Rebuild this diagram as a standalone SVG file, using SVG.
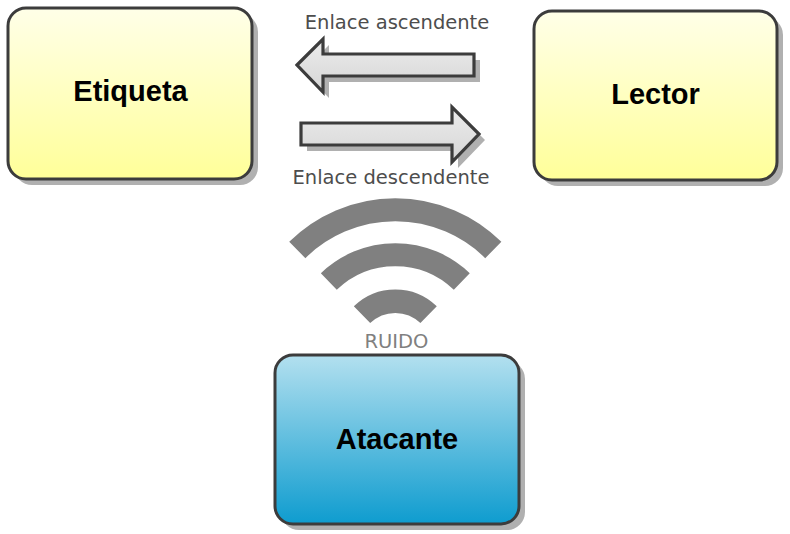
<svg xmlns="http://www.w3.org/2000/svg" width="790" height="534" viewBox="0 0 790 534">
<style>
.box{stroke:#3c3c3c;stroke-width:3}
.shadow{fill:#b0b0b0}
.arrow{fill:url(#gArrow);stroke:#3c3c3c;stroke-width:3.2}
.title{font-family:"Liberation Sans",Arial,sans-serif;font-weight:bold;font-size:29px;fill:#000;text-anchor:middle}
.label{font-family:"DejaVu Sans",sans-serif;font-size:19.5px;fill:#4d4d4d;text-anchor:middle}
.noise{fill:none;stroke:#808080}
</style>
<defs>
<linearGradient id="gYellow" x1="0" y1="0" x2="0" y2="1"><stop offset="0" stop-color="#ffffe8"/><stop offset="1" stop-color="#ffff99"/></linearGradient>
<linearGradient id="gBlue" x1="0" y1="0" x2="0" y2="1"><stop offset="0" stop-color="#b3e0ef"/><stop offset="1" stop-color="#0e9ccf"/></linearGradient>
<linearGradient id="gArrow" x1="0" y1="0" x2="0" y2="1"><stop offset="0" stop-color="#ececec"/><stop offset="1" stop-color="#d6d6d6"/></linearGradient>
</defs>
<g id="etiqueta">
<rect class="shadow" x="14" y="14" width="244" height="171" rx="18"/>
<rect class="box" x="8" y="8" width="244" height="171" rx="18" fill="url(#gYellow)"/>
<text class="title" x="130.500" y="101">Etiqueta</text>
</g>
<g id="lector">
<rect class="shadow" x="540" y="17" width="243" height="169" rx="18"/>
<rect class="box" x="534" y="11" width="243" height="169" rx="18" fill="url(#gYellow)"/>
<text class="title" x="655.500" y="104">Lector</text>
</g>
<g id="atacante">
<rect class="shadow" x="281" y="361" width="244" height="169" rx="18"/>
<rect class="box" x="275" y="355" width="244" height="169" rx="18" fill="url(#gBlue)"/>
<text class="title" x="397" y="449">Atacante</text>
</g>
<g id="connectors">
<g id="uplink">
<path class="shadow" d="M303 71L329 45V60H480V82H329V98Z"/>
<path class="arrow" d="M297 65L323 39V54H474V76H323V92Z"/>
</g>
<g id="downlink">
<path class="shadow" d="M307 129H458V113L485 140L458 168V151H307Z"/>
<path class="arrow" d="M301 123H452V107L479 134L452 162V145H301Z"/>
</g>
</g>
<text class="label" x="397" y="29">Enlace ascendente</text>
<text class="label" x="391" y="184">Enlace descendente</text>
<g id="ruido">
<path class="noise" stroke-width="23" d="M297.300 250A139.500 139.500 0 0 1 493.300 250"/>
<path class="noise" stroke-width="23" d="M328.800 281.500A96 96 0 0 1 461.800 281.500"/>
<path class="noise" stroke-width="23.500" d="M362 314.700A47.750 47.750 0 0 1 428.600 314.700"/>
<text x="396.500" y="347.500" font-family="'DejaVu Sans',sans-serif" font-size="19.500" fill="#808080" text-anchor="middle">RUIDO</text>
</g>
</svg>
